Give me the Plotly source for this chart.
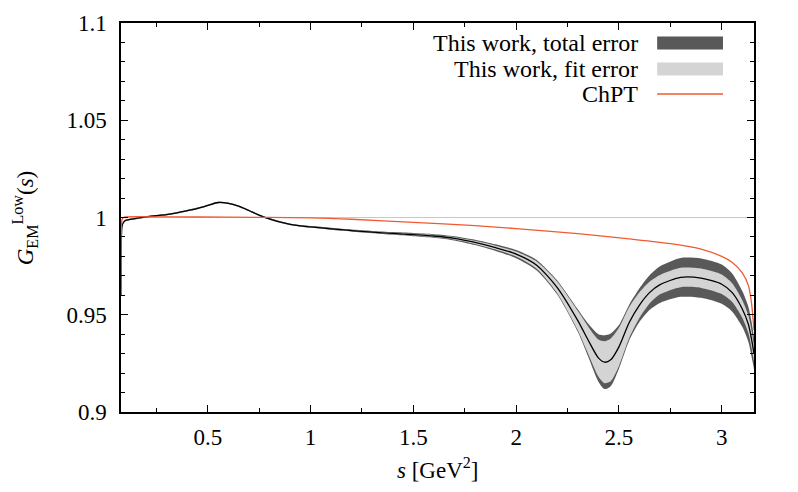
import plotly.graph_objects as go

# ---- data ----
s_vals = [0.0779, 0.0800, 0.0830, 0.0900, 0.10, 0.15, 0.20, 0.25, 0.30, 0.35, 0.40, 0.45, 0.50, 0.55,
          0.60, 0.65, 0.70, 0.75, 0.80, 0.85, 0.90, 0.95, 1.00, 1.10, 1.20, 1.30, 1.40, 1.50,
          1.60, 1.70, 1.80, 1.90, 2.00, 2.10, 2.20, 2.30, 2.35, 2.40, 2.43, 2.46, 2.50, 2.55, 2.60,
          2.65, 2.70, 2.80, 2.90, 3.00, 3.05, 3.10, 3.13, 3.145, 3.157]
g_central = [0.960, 0.990, 0.9955, 0.9975, 0.9985, 0.9995, 1.0003, 1.0009, 1.0015, 1.0024, 1.0035, 1.0047, 1.0062, 1.0077,
             1.0073, 1.0058, 1.0036, 1.0012, 0.9993, 0.9977, 0.9965, 0.9957, 0.9952, 0.9942, 0.9933, 0.9925, 0.9918, 0.9912,
             0.9905, 0.9893, 0.9872, 0.9845, 0.9812, 0.9755, 0.9640, 0.9470, 0.9370, 0.9278, 0.9256, 0.9268, 0.9335, 0.9460, 0.9550,
             0.9615, 0.9655, 0.9692, 0.9688, 0.9657, 0.9615, 0.9530, 0.9450, 0.9375, 0.9300]
fit_err = [0.0002, 0.0002, 0.0002, 0.0002, 0.0002, 0.0002, 0.0002, 0.0002, 0.0002, 0.0002, 0.0002, 0.0002, 0.0002, 0.0002,
           0.0002, 0.0002, 0.0002, 0.0002, 0.0002, 0.0002, 0.0002, 0.0002, 0.0002, 0.0002, 0.0003, 0.0003, 0.0004, 0.0004,
           0.0005, 0.0006, 0.0008, 0.0010, 0.0013, 0.0019, 0.0030, 0.0050, 0.0070, 0.0095, 0.0108, 0.0110, 0.0098, 0.0080, 0.0066,
           0.0056, 0.0050, 0.0050, 0.0050, 0.0050, 0.0048, 0.0045, 0.0045, 0.0045, 0.0040]
total_err = [0.0004, 0.0004, 0.0004, 0.0004, 0.0004, 0.0004, 0.0004, 0.0004, 0.0004, 0.0004, 0.0004, 0.0004, 0.0004, 0.0004,
             0.0004, 0.0004, 0.0004, 0.0004, 0.0004, 0.0004, 0.0004, 0.0004, 0.0004, 0.0005, 0.0005, 0.0006, 0.0007, 0.0008,
             0.0009, 0.0011, 0.0014, 0.0017, 0.0021, 0.0027, 0.0036, 0.0058, 0.0085, 0.0122, 0.0138, 0.0135, 0.0112, 0.0092, 0.0086,
             0.0089, 0.0094, 0.0100, 0.0101, 0.0101, 0.0098, 0.0092, 0.0090, 0.0090, 0.0080]

s_chpt = [0.0779, 0.0785, 0.0800, 0.0830, 0.0900, 0.10, 0.30, 0.60, 1.00, 1.20, 1.50, 1.80, 2.00, 2.30,
          2.55, 2.75, 2.90, 3.00, 3.05, 3.10, 3.13, 3.145, 3.157]
g_chpt = [0.960, 0.985, 0.995, 0.999, 1.0000, 1.0003, 1.0003, 1.0002, 0.9998, 0.9991, 0.9975, 0.9958, 0.9943, 0.9917,
          0.9890, 0.9866, 0.9838, 0.9800, 0.9770, 0.9715, 0.9650, 0.9560, 0.9420]

x_ticks = [0.5, 1, 1.5, 2, 2.5, 3]
x_tick_text = ["0.5", "1", "1.5", "2", "2.5", "3"]
y_ticks = [0.9, 0.95, 1.0, 1.05, 1.1]
y_tick_text = ["0.9", "0.95", "1", "1.05", "1.1"]
x_range = [0.0779, 3.157]
y_range = [0.9, 1.1]

legend_labels = ["This work, total error", "This work, fit error", "ChPT"]

DARK = "#595959"
LIGHT = "#d4d4d4"
RED = "#f05a32"
FONT = "Liberation Serif"
FS = 23
FS_LEG = 24

total_lo = [c - e for c, e in zip(g_central, total_err)]
total_hi = [c + e for c, e in zip(g_central, total_err)]
fit_lo = [c - e for c, e in zip(g_central, fit_err)]
fit_hi = [c + e for c, e in zip(g_central, fit_err)]

fig = go.Figure()
sm = 0.7
band_line = dict(width=0, shape="spline", smoothing=sm)
fig.add_trace(go.Scatter(x=s_vals, y=total_lo, mode="lines", line=band_line, showlegend=False, hoverinfo="skip"))
fig.add_trace(go.Scatter(x=s_vals, y=total_hi, mode="lines", line=band_line, fill="tonexty",
                         fillcolor=DARK, showlegend=False, hoverinfo="skip"))
fig.add_trace(go.Scatter(x=s_vals, y=fit_lo, mode="lines", line=band_line, showlegend=False, hoverinfo="skip"))
fig.add_trace(go.Scatter(x=s_vals, y=fit_hi, mode="lines", line=band_line, fill="tonexty",
                         fillcolor=LIGHT, showlegend=False, hoverinfo="skip"))
fig.add_trace(go.Scatter(x=x_range, y=[1.0, 1.0], mode="lines", line=dict(color="#c8c8c8", width=1.2),
                         showlegend=False, hoverinfo="skip"))
fig.add_trace(go.Scatter(x=s_vals, y=g_central, mode="lines",
                         line=dict(color="black", width=1.3, shape="spline", smoothing=sm), showlegend=False))
fig.add_trace(go.Scatter(x=s_chpt, y=g_chpt, mode="lines",
                         line=dict(color=RED, width=1.3, shape="spline", smoothing=sm), showlegend=False))

axis_common = dict(showline=True, linecolor="black", linewidth=1.5, mirror="ticks", ticks="inside",
                   ticklen=7, tickcolor="black", tickwidth=1, showgrid=False, zeroline=False,
                   automargin=False, tickfont=dict(family=FONT, size=FS, color="black"))
fig.update_xaxes(range=x_range, tickvals=x_ticks, ticktext=x_tick_text, ticklabelstandoff=4,
                 minor=dict(dtick=0.25, tick0=0, ticks="inside", ticklen=4, tickcolor="black"),
                 **axis_common)
fig.update_yaxes(range=y_range, tickvals=y_ticks, ticktext=y_tick_text, ticklabelstandoff=8,
                 minor=dict(dtick=0.01, tick0=0.9, ticks="inside", ticklen=4, tickcolor="black"),
                 **axis_common)

# axis titles
fig.add_annotation(x=0.5, y=-0.144, xref="paper", yref="paper", text="<i>s</i> [GeV<sup>2</sup>]",
                   showarrow=False, xanchor="center", yanchor="middle",
                   font=dict(family=FONT, size=FS, color="black"))
fig.add_annotation(x=-0.152, y=0.5, xref="paper", yref="paper",
                   text="<i>G</i><sub>EM</sub><sup>Low</sup>(<i>s</i>)", textangle=-90,
                   showarrow=False, xanchor="center", yanchor="middle",
                   font=dict(family=FONT, size=FS, color="black"))

# manual legend (text left of swatch, as in the reference)
leg_y = [0.9486, 0.8817, 0.8175]
for i, lab in enumerate(legend_labels):
    fig.add_annotation(x=0.820, y=leg_y[i], xref="paper", yref="paper", text=lab, showarrow=False,
                       xanchor="right", yanchor="middle", font=dict(family=FONT, size=FS_LEG, color="black"))
fig.add_shape(type="rect", xref="paper", yref="paper", x0=0.847, x1=0.951, y0=leg_y[0] - 0.0167,
              y1=leg_y[0] + 0.0167, fillcolor=DARK, line=dict(width=0))
fig.add_shape(type="rect", xref="paper", yref="paper", x0=0.847, x1=0.951, y0=leg_y[1] - 0.0167,
              y1=leg_y[1] + 0.0167, fillcolor=LIGHT, line=dict(width=0))
fig.add_shape(type="line", xref="paper", yref="paper", x0=0.847, x1=0.951, y0=leg_y[2], y1=leg_y[2],
              line=dict(color=RED, width=1.3))

fig.update_layout(width=798, height=492, margin=dict(l=121, r=44, t=23, b=80),
                  plot_bgcolor="white", paper_bgcolor="white", showlegend=False)
fig.write_html("out.html", config={"displayModeBar": False},
               post_script="document.body.style.margin='0';document.body.style.overflow='hidden';")
